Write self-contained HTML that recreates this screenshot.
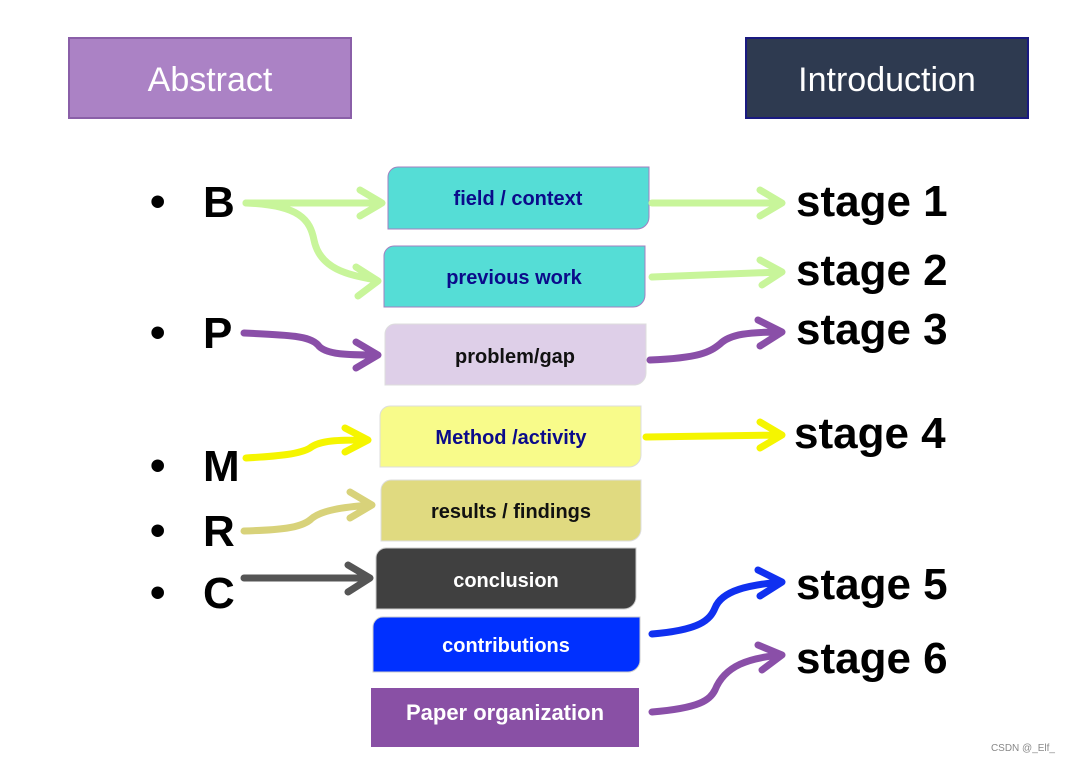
<!DOCTYPE html>
<html><head><meta charset="utf-8"><style>
body{margin:0;background:#fff;}
svg{display:block;font-family:"Liberation Sans","DejaVu Sans",sans-serif;}
</style></head><body>
<svg width="1072" height="762" viewBox="0 0 1072 762">
<rect x="69" y="38" width="282" height="80" fill="#ab82c5" stroke="#8a5fa8" stroke-width="2"/>
<text x="210" y="91" font-size="34" fill="#fff" text-anchor="middle">Abstract</text>
<rect x="746" y="38" width="282" height="80" fill="#2e3a50" stroke="#1a1a80" stroke-width="2"/>
<text x="887" y="91" font-size="34" fill="#fff" text-anchor="middle">Introduction</text>
<g font-size="44" font-weight="bold" fill="#000">
<text x="150" y="216">•</text><text x="203" y="217">B</text>
<text x="150" y="347">•</text><text x="203" y="348">P</text>
<text x="150" y="480">•</text><text x="203" y="481">M</text>
<text x="150" y="545">•</text><text x="203" y="546">R</text>
<text x="150" y="607">•</text><text x="203" y="608">C</text>
</g>
<g font-size="44" font-weight="bold" fill="#000">
<text x="796" y="216">stage 1</text>
<text x="796" y="285">stage 2</text>
<text x="796" y="344">stage 3</text>
<text x="794" y="448">stage 4</text>
<text x="796" y="599">stage 5</text>
<text x="796" y="673">stage 6</text>
</g>
<g font-weight="bold" font-size="20" text-anchor="middle">
<path d="M398,167H649V217a12,12 0 0 1 -12,12H388V177a10,10 0 0 1 10,-10z" fill="#55ddd6" stroke="#a37fc0"/>
<text x="518" y="205" fill="#0b0b8a">field / context</text>
<path d="M394,246H645V295a12,12 0 0 1 -12,12H384V256a10,10 0 0 1 10,-10z" fill="#55ddd6" stroke="#a37fc0"/>
<text x="514" y="284" fill="#0b0b8a">previous work</text>
<path d="M395,324H646V373a12,12 0 0 1 -12,12H385V334a10,10 0 0 1 10,-10z" fill="#decfe8" stroke="#ddd"/>
<text x="515" y="363" fill="#111">problem/gap</text>
<path d="M390,406H641V455a12,12 0 0 1 -12,12H380V416a10,10 0 0 1 10,-10z" fill="#f8fb8a" stroke="#ddd"/>
<text x="511" y="444" fill="#0b0b8a">Method /activity</text>
<path d="M391,480H641V529a12,12 0 0 1 -12,12H381V490a10,10 0 0 1 10,-10z" fill="#e0da80" stroke="#ddd"/>
<text x="511" y="518" fill="#111">results / findings</text>
<path d="M386,548H636V597a12,12 0 0 1 -12,12H376V558a10,10 0 0 1 10,-10z" fill="#404040" stroke="#ccc"/>
<text x="506" y="587" fill="#fff">conclusion</text>
<path d="M383,617H640V660a12,12 0 0 1 -12,12H373V627a10,10 0 0 1 10,-10z" fill="#0030ff" stroke="#ccc"/>
<text x="506" y="652" fill="#fff">contributions</text>
<rect x="371" y="688" width="268" height="59" fill="#8950a5"/>
<text x="505" y="720" fill="#fff" font-size="22">Paper organization</text>
</g>
<g fill="none" stroke-width="7" stroke-linecap="round" stroke-linejoin="round">
<g stroke="#c8f59a">
<path d="M246,203 L380,203 M360,190 L382,203 360,216"/>
<path d="M246,203 C300,205 310,220 314,240 C320,270 350,275 376,280 M356,267 L378,281 358,296"/>
<path d="M652,203 L780,203 M760,190 L782,203 760,216"/>
<path d="M652,277 L780,272 M760,260 L782,272 762,285"/>
</g>
<g stroke="#8a4fa8">
<path d="M244,333 C290,335 310,336 318,345 C325,355 350,355 376,355 M356,342 L378,355 356,368"/>
<path d="M650,360 C700,358 710,352 720,344 C730,334 750,332 780,332 M758,320 L782,332 760,346"/>
<path d="M652,712 C700,708 710,700 715,690 C725,665 750,658 780,655 M758,645 L782,655 762,670"/>
</g>
<g stroke="#f5f500">
<path d="M246,458 C280,456 300,454 310,448 C320,440 340,440 365,440 M345,428 L368,440 345,452"/>
<path d="M646,437 L780,435 M760,422 L782,435 760,448"/>
</g>
<g stroke="#d8d27a">
<path d="M244,531 C280,530 300,528 310,520 C320,510 345,507 370,505 M350,492 L372,505 350,518"/>
</g>
<g stroke="#555">
<path d="M244,578 L368,578 M348,565 L370,578 348,592"/>
</g>
<g stroke="#1030f0">
<path d="M652,634 C700,630 710,620 715,608 C722,590 750,585 780,582 M758,570 L782,582 760,596"/>
</g>
</g>
<text x="1055" y="751" font-size="10" fill="#888" text-anchor="end">CSDN @_Elf_</text>
</svg>
</body></html>
